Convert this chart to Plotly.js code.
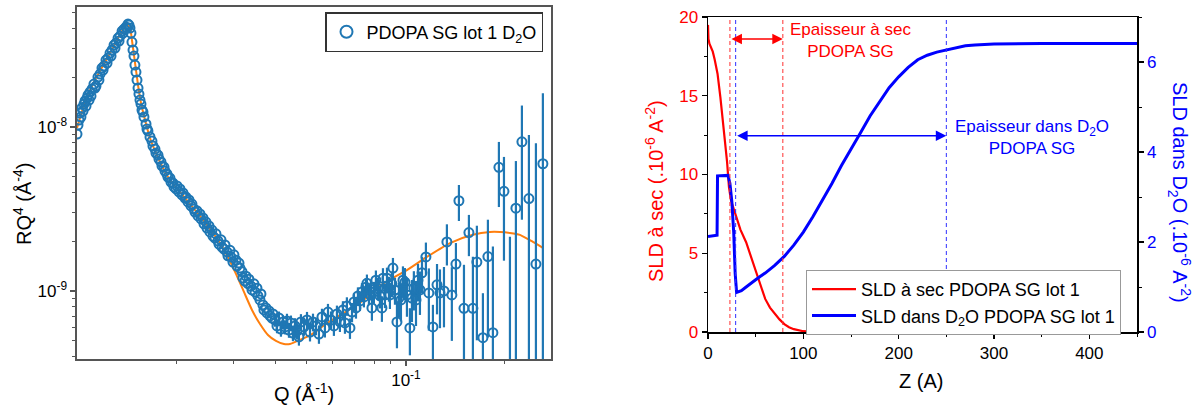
<!DOCTYPE html>
<html><head><meta charset="utf-8">
<script src="https://cdn.plot.ly/plotly-3.0.1.min.js"></script>
<style>html,body{margin:0;padding:0;background:#fff}#chart{width:1197px;height:406px}</style>
</head><body><div id="chart"></div>
<script>
// ---------- Left panel: reflectivity RQ^4 vs Q ----------
const qRise = [0.01000,0.01007,0.01014,0.01021,0.01028,0.01035,0.01043,0.01050,0.01058,0.01065,
  0.01073,0.01080,0.01088,0.01095,0.01103,0.01111,0.01126,0.01134,0.01142,0.01158,
  0.01166,0.01175,0.01191,0.01200,0.01208,0.01225,0.01234,0.01243,0.01260,0.01269,
  0.01278,0.01296,0.01305,0.01314,0.01333,0.01342,0.01352,0.01371,0.01380,0.01390,
  0.01409,0.01419,0.01429,0.01439];
const rRise = [9.06e-9,1.028e-8,1.103e-8,1.217e-8,1.151e-8,1.306e-8,1.251e-8,1.380e-8,1.441e-8,1.343e-8,
  1.502e-8,1.567e-8,1.461e-8,1.634e-8,1.545e-8,1.705e-8,1.829e-8,1.729e-8,1.778e-8,2.018e-8,
  1.934e-8,2.104e-8,2.290e-8,2.226e-8,2.355e-8,2.561e-8,2.456e-8,2.634e-8,2.826e-8,2.710e-8,
  2.947e-8,3.162e-8,3.031e-8,3.252e-8,3.489e-8,3.345e-8,3.588e-8,3.849e-8,3.743e-8,3.959e-8,
  4.072e-8,4.015e-8,4.247e-8,4.188e-8];

const qFall = [0.01449,0.01459,0.01469,0.01480,0.01490,0.01500,0.01511,0.01522,0.01533,0.01543,
  0.01554,0.01565,0.01576,0.01587,0.01598,0.01621,0.01632,0.01643,0.01667,0.01690,
  0.01702,0.01726,0.01738,0.01763,0.01775,0.01800,0.01813,0.01839,0.01851,0.01877,
  0.01890,0.01917,0.01931,0.01958,0.01972,0.02000,0.02014,0.02042,0.02056,0.02085,
  0.02100,0.02129,0.02145,0.02175,0.02190,0.02221,0.02236,0.02268,0.02284,0.02316,
  0.02333,0.02365,0.02382,0.02415,0.02432,0.02467,0.02484,0.02519,0.02536,0.02572,
  0.02590,0.02627,0.02645,0.02683,0.02702,0.02740,0.02759,0.02798,0.02818,0.02858,
  0.02877,0.02919,0.02938,0.02979,0.03000,0.03043,0.03064,0.03108,0.03129,0.03174,
  0.03195,0.03241,0.03263,0.03310,0.03332,0.03380,0.03404,0.03451,0.03476,0.03525,
  0.03549,0.03600,0.03624,0.03675,0.03701,0.03753,0.03780,0.03834,0.03861,0.03915,
  0.03943];
const rFall = [4.015e-8,3.743e-8,3.298e-8,2.947e-8,2.710e-8,2.388e-8,2.164e-8,1.934e-8,1.729e-8,1.589e-8,
  1.461e-8,1.380e-8,1.269e-8,1.234e-8,1.151e-8,1.043e-8,9.73e-9,9.46e-9,8.69e-9,8.21e-9,
  7.66e-9,7.34e-9,6.94e-9,6.74e-9,6.38e-9,6.12e-9,5.79e-9,5.70e-9,5.39e-9,5.17e-9,
  4.95e-9,4.88e-9,4.61e-9,4.55e-9,4.31e-9,4.19e-9,4.37e-9,4.02e-9,4.19e-9,3.85e-9,
  3.96e-9,3.69e-9,3.74e-9,3.49e-9,3.59e-9,3.30e-9,3.39e-9,3.16e-9,3.03e-9,3.08e-9,
  2.87e-9,2.95e-9,2.75e-9,2.79e-9,2.57e-9,2.63e-9,2.42e-9,2.49e-9,2.29e-9,2.35e-9,
  2.16e-9,2.10e-9,2.23e-9,2.02e-9,1.93e-9,2.05e-9,1.85e-9,1.80e-9,1.91e-9,1.73e-9,
  1.64e-9,1.77e-9,1.61e-9,1.50e-9,1.66e-9,1.54e-9,1.42e-9,1.48e-9,1.38e-9,1.31e-9,
  1.20e-9,1.15e-9,1.23e-9,1.11e-9,1.18e-9,1.07e-9,1.014e-9,1.105e-9,9.86e-10,1.04e-9,
  9.32e-10,8.81e-10,9.59e-10,8.22e-10,7.66e-10,7.88e-10,7.34e-10,7.55e-10,7.04e-10,6.84e-10,
  7.24e-10];

const qNoisy = [0.03998,0.04055,0.04111,0.04169,0.04228,0.04288,0.04348,0.04409,0.04471,0.04534,
  0.04598,0.04663,0.04728,0.04795,0.04898,0.05003,0.05109,0.05217,0.05326,0.05439,
  0.05555,0.05672,0.05794,0.05917,0.06040,0.06169,0.06300,0.06434,0.06525,0.06614,
  0.06758,0.06856,0.06951,0.07049,0.07146,0.07247,0.07349,0.07452,0.07557,0.07610,
  0.07717,0.07825,0.07881,0.07991,0.08103,0.08217,0.08336,0.08453,0.08514,0.08633,
  0.08756,0.08877,0.08940,0.09066,0.09130,0.09260,0.09390,0.09521,0.09656,0.09793,
  0.09931,0.1007,0.1028,0.1043,0.1057,0.1073,0.1088,0.1103,0.1119,0.1150,
  0.1174,0.1208,0.1243,0.1269,0.1305,0.1332,0.1379,0.1419,0.1449,0.1501,
  0.1554,0.1598,0.1643,0.1714,0.1775,0.1838,0.1917,0.1986,0.2071,0.2159,
  0.2252,0.2365,0.2484,0.2608];
const rNoisy = [6.65e-10,6.12e-10,6.84e-10,5.86e-10,6.47e-10,6.03e-10,6.56e-10,5.78e-10,6.38e-10,5.54e-10,
  6.12e-10,5.70e-10,5.24e-10,6.47e-10,6.03e-10,6.65e-10,5.62e-10,6.47e-10,6.12e-10,5.46e-10,
  6.94e-10,5.95e-10,7.44e-10,6.65e-10,6.12e-10,7.24e-10,6.47e-10,7.66e-10,6.38e-10,8.10e-10,
  5.95e-10,7.44e-10,8.57e-10,7.88e-10,9.32e-10,8.69e-10,9.86e-10,9.19e-10,1.055e-9,1.114e-9,
  9.59e-10,1.025e-9,7.88e-10,9.86e-10,1.163e-9,1.040e-9,9.32e-10,7.88e-10,1.197e-9,9.46e-10,
  1.197e-9,1.040e-9,9.46e-10,1.105e-9,1.380e-9,1.014e-9,6.47e-10,9.06e-10,8.81e-10,1.163e-9,
  1.130e-9,9.46e-10,5.95e-10,9.06e-10,1.040e-9,8.81e-10,1.163e-9,1.014e-9,1.290e-9,1.613e-9,
  9.73e-10,6.03e-10,1.090e-9,9.73e-10,1.000e-9,1.990e-9,9.46e-10,1.460e-9,3.550e-9,7.84e-10,
  2.270e-9,7.84e-10,1.500e-9,5.19e-10,1.620e-9,5.57e-10,5.680e-9,4.050e-9,2.50e-10,3.200e-9,
  8.120e-9,3.660e-9,1.460e-9,5.970e-9];
const rErrNoisy = [6.0e-11,6.0e-11,6.5e-11,6.0e-11,6.5e-11,6.0e-11,7.0e-11,6.0e-11,7.0e-11,6.0e-11,
  7.0e-11,6.5e-11,6.0e-11,7.5e-11,7.0e-11,8.0e-11,7.0e-11,8.0e-11,7.5e-11,7.0e-11,
  8.5e-11,7.5e-11,9.0e-11,8.5e-11,8.0e-11,9.0e-11,8.5e-11,1.0e-10,9.0e-11,1.05e-10,
  8.5e-11,1.0e-10,1.1e-10,1.1e-10,1.2e-10,1.15e-10,1.3e-10,1.25e-10,1.4e-10,1.45e-10,
  1.4e-10,1.5e-10,1.3e-10,1.5e-10,1.7e-10,1.6e-10,1.5e-10,1.4e-10,1.8e-10,1.6e-10,
  1.9e-10,1.8e-10,1.7e-10,1.9e-10,2.1e-10,1.9e-10,2.0e-10,2.2e-10,2.3e-10,2.5e-10,
  2.5e-10,2.5e-10,1.9e-10,2.6e-10,2.8e-10,2.7e-10,3.0e-10,3.0e-10,3.2e-10,3.6e-10,
  4.0e-10,2.2e-10,3.7e-10,3.8e-10,4.0e-10,5.6e-10,4.5e-10,5.0e-10,8.8e-10,6.6e-10,
  6.4e-10,8.35e-10,1.0e-9,4.5e-10,1.1e-9,1.31e-9,2.43e-9,2.52e-9,1.89e-9,3.0e-9,
  5.4e-9,5.28e-9,6.49e-9,1.008e-8];

const qFit = [0.01000,0.01058,0.01134,0.01217,0.01305,0.01371,0.01419,0.01449,0.01469,0.01500,
  0.01533,0.01565,0.01610,0.01667,0.01738,0.01826,0.01917,0.02056,0.02205,0.02365,
  0.02536,0.02721,0.02877,0.03043,0.03218,0.03404,0.03600,0.03807,0.04026,0.04257,
  0.04440,0.04762,0.05180,0.05712,0.06389,0.07247,0.08514,0.1007,0.1158,0.1361,
  0.1598,0.1800,0.1931,0.2071,0.2221,0.2432,0.2608];
const rFit = [9.86e-9,1.420e-8,1.934e-8,2.491e-8,3.207e-8,3.849e-8,4.188e-8,4.015e-8,3.392e-8,2.491e-8,
  1.803e-8,1.400e-8,1.103e-8,8.57e-9,6.94e-9,5.62e-9,4.75e-9,4.02e-9,3.39e-9,2.87e-9,
  2.39e-9,1.96e-9,1.61e-9,1.27e-9,9.86e-10,7.66e-10,6.29e-10,5.39e-10,4.96e-10,4.75e-10,
  4.75e-10,5.03e-10,5.46e-10,6.29e-10,7.24e-10,8.45e-10,1.105e-9,1.34e-9,1.613e-9,1.96e-9,
  2.20e-9,2.29e-9,2.29e-9,2.26e-9,2.20e-9,1.99e-9,1.83e-9];

const qTickVals = [0.1];
const qTickText = ['10<sup>-1</sup>'];
const qMinorTicks = [0.02,0.03,0.04,0.05,0.06,0.07,0.08,0.09,0.2];
const rTickVals = [1e-9,1e-8];
const rTickText = ['10<sup>-9</sup>','10<sup>-8</sup>'];
const rMinorTicks = [4e-10,5e-10,6e-10,7e-10,8e-10,9e-10,2e-9,3e-9,4e-9,5e-9,6e-9,7e-9,8e-9,9e-9,2e-8,3e-8,4e-8,5e-8];

// ---------- Right panel: SLD profiles ----------
const zDry = [0,0.5,1.5,3,5,7,10,13,16,18,20,22,24,26,30,34,40,44,50,55,60,65,70,75,80,85,90,95,100,110,120,150];
const sldDry = [19.5,18.6,18.3,18.1,17.8,17.3,16.4,14.9,13.2,12.1,10.8,9.2,8.4,8.0,7.2,6.5,5.7,5.0,3.9,3.0,2.1,1.55,1.15,0.8,0.5,0.3,0.18,0.1,0.05,0.01,0,0];
const zWet = [0,9.5,10,21,23,25,27,28.5,30,35,40,45,50,55,60,70,80,90,100,110,120,130,140,150,160,170,180,190,200,210,220,230,240,250,260,270,280,300,350,450];
const sldWet = [2.12,2.15,3.47,3.48,3.3,2.9,2.2,1.3,0.88,0.92,1.0,1.09,1.16,1.24,1.31,1.48,1.68,1.93,2.22,2.56,2.92,3.3,3.7,4.08,4.43,4.8,5.13,5.43,5.67,5.88,6.05,6.15,6.22,6.27,6.32,6.36,6.38,6.40,6.41,6.41];
const dryThickness = [23, 78.5];
const wetThickness = [29, 250];
const dryArrowLevel = 18.6;   // left SLD axis
const wetArrowLevel = 4.36;   // right SLD axis

const FONT = '"Liberation Sans", Arial, Helvetica, sans-serif';
const BLUE = '#1f77b4', ORANGE = '#ff7f0e';

const traces = [
  {x:qFit, y:rFit, type:'scatter', mode:'lines', xaxis:'x', yaxis:'y', showlegend:false,
   line:{color:ORANGE, width:2, shape:'spline', smoothing:0.6}},
  {x: qNoisy.concat(qFall, qRise), y: rNoisy.concat(rFall, rRise),
   type:'scatter', mode:'markers', xaxis:'x', yaxis:'y', legend:'legend',
   name:'PDOPA SG lot 1 D<sub>2</sub>O',
   marker:{symbol:'circle-open', size:9, color:BLUE, line:{width:2, color:BLUE}},
   error_y:{type:'data', array:rErrNoisy, visible:true, color:BLUE, thickness:2.2, width:0}},
  {x:zDry, y:sldDry, type:'scatter', mode:'lines', xaxis:'x2', yaxis:'y2', legend:'legend2',
   name:'SLD à sec PDOPA SG lot 1', line:{color:'#ff0000', width:2.2}},
  {x:zWet, y:sldWet, type:'scatter', mode:'lines', xaxis:'x2', yaxis:'y3', legend:'legend2',
   name:'SLD dans D<sub>2</sub>O PDOPA SG lot 1', line:{color:'#0000ff', width:3}}
];

const shapes = [];
dryThickness.forEach(z => shapes.push({type:'line', xref:'x2', yref:'y2', x0:z, x1:z, y0:0, y1:20,
  line:{color:'#ff3030', width:1, dash:'4px,3px'}}));
wetThickness.forEach(z => shapes.push({type:'line', xref:'x2', yref:'y2', x0:z, x1:z, y0:0, y1:20,
  line:{color:'#3030ff', width:1, dash:'4px,3px'}}));

const annotations = [
  {xref:'x2', yref:'y2', axref:'x2', ayref:'y2', x:dryThickness[1], y:dryArrowLevel, ax:dryThickness[0], ay:dryArrowLevel,
   text:'', showarrow:true, arrowside:'end+start', arrowhead:2, startarrowhead:2, arrowsize:1.4, startarrowsize:1.4, arrowwidth:1.5, arrowcolor:'#ff0000'},
  {xref:'x2', yref:'y3', axref:'x2', ayref:'y3', x:wetThickness[1], y:wetArrowLevel, ax:wetThickness[0], ay:wetArrowLevel,
   text:'', showarrow:true, arrowside:'end+start', arrowhead:2, startarrowhead:2, arrowsize:1.4, startarrowsize:1.4, arrowwidth:1.5, arrowcolor:'#0000ff'},
  {xref:'x2', yref:'y2', x:149, y:18.5, xanchor:'center', yanchor:'middle', text:'Epaisseur à sec<br>PDOPA SG', showarrow:false,
   font:{family:FONT, size:17, color:'#ff0000'}},
  {xref:'x2', yref:'y3', x:340, y:4.33, xanchor:'center', yanchor:'middle', text:'Epaisseur dans D<sub>2</sub>O<br>PDOPA SG', showarrow:false,
   font:{family:FONT, size:17, color:'#0000ff'}},
  // axis titles
  {xref:'paper', yref:'paper', x:22/1197, y:(406-204)/406, xanchor:'center', yanchor:'middle',
   text:'RQ<sup>4</sup> (Å<sup>-4</sup>)', textangle:-90, showarrow:false, font:{family:FONT, size:20, color:'#000'}},
  {xref:'paper', yref:'paper', x:304/1197, y:(406-392)/406, xanchor:'center', yanchor:'middle',
   text:'Q (Å<sup>-1</sup>)', showarrow:false, font:{family:FONT, size:20, color:'#000'}},
  {xref:'paper', yref:'paper', x:921/1197, y:(406-381)/406, xanchor:'center', yanchor:'middle',
   text:'Z (A)', showarrow:false, font:{family:FONT, size:20, color:'#000'}},
  {xref:'paper', yref:'paper', x:654/1197, y:(406-191)/406, xanchor:'center', yanchor:'middle',
   text:'SLD à sec (.10<sup>-6</sup> A<sup>-2</sup>)', textangle:-90, showarrow:false, font:{family:FONT, size:20, color:'#ff0000'}},
  {xref:'paper', yref:'paper', x:1180/1197, y:(406-192)/406, xanchor:'center', yanchor:'middle',
   text:'SLD dans D<sub>2</sub>O (.10<sup>-6</sup> A<sup>-2</sup>)', textangle:90, showarrow:false, font:{family:FONT, size:20, color:'#0000ff'}}
];

const axisCommon = {showgrid:false, zeroline:false, showline:true, ticks:'outside', ticklen:5, tickwidth:1.3};

const layout = {
  width:1197, height:406, margin:{l:0, r:0, t:0, b:0},
  paper_bgcolor:'#ffffff', plot_bgcolor:'#ffffff',
  font:{family:FONT, size:17, color:'#000'},
  showlegend:true,
  xaxis: Object.assign({}, axisCommon, {domain:[77/1197, 551/1197], anchor:'y', type:'log', range:[-2.0, -0.559],
    tickmode:'array', tickvals:qTickVals, ticktext:qTickText, tickcolor:'#555', linecolor:'#555', linewidth:1.6, mirror:true,
    minor:{tickmode:'array', tickvals:qMinorTicks, ticks:'outside', ticklen:3, tickwidth:1, tickcolor:'#555'}}),
  yaxis: Object.assign({}, axisCommon, {domain:[(406-359)/406, (406-7)/406], anchor:'x', type:'log', range:[-9.415, -7.268],
    tickmode:'array', tickvals:rTickVals, ticktext:rTickText, tickcolor:'#555', linecolor:'#555', linewidth:1.6, mirror:true,
    minor:{tickmode:'array', tickvals:rMinorTicks, ticks:'outside', ticklen:3, tickwidth:1, tickcolor:'#555'}}),
  xaxis2: Object.assign({}, axisCommon, {domain:[708/1197, 1137/1197], anchor:'y2', range:[0, 450],
    tickmode:'linear', tick0:0, dtick:100, tickcolor:'#000', linecolor:'#000', linewidth:1.5, mirror:true,
    minor:{tick0:0, dtick:50, ticks:'outside', ticklen:3, tickwidth:1, tickcolor:'#000'}}),
  yaxis2: Object.assign({}, axisCommon, {domain:[(406-332)/406, (406-17)/406], anchor:'x2', range:[0, 20],
    tickmode:'linear', tick0:0, dtick:5, tickcolor:'#000', linecolor:'#000', linewidth:1.5,
    tickfont:{color:'#ff0000', size:17},
    minor:{tick0:0, dtick:2.5, ticks:'outside', ticklen:3, tickwidth:1, tickcolor:'#000'}}),
  yaxis3: Object.assign({}, axisCommon, {overlaying:'y2', side:'right', anchor:'x2', range:[0, 7],
    tickmode:'linear', tick0:0, dtick:2, tickcolor:'#000', linecolor:'#000', linewidth:1.5,
    tickfont:{color:'#0000ff', size:17},
    minor:{tick0:0, dtick:1, ticks:'outside', ticklen:3, tickwidth:1, tickcolor:'#000'}}),
  legend:{x:325/1197, y:(406-12)/406, xanchor:'left', yanchor:'top', bgcolor:'#ffffff', itemsizing:'constant',
    bordercolor:'#333', borderwidth:1.5, font:{family:FONT, size:18, color:'#000'}},
  legend2:{x:806/1197, y:(406-270)/406, xanchor:'left', yanchor:'top', bgcolor:'#ffffff', itemwidth:44,
    bordercolor:'#999', borderwidth:1, font:{family:FONT, size:18, color:'#000'}, tracegroupgap:0},
  shapes: shapes,
  annotations: annotations
};

Plotly.newPlot('chart', traces, layout, {displayModeBar:false, staticPlot:true});
</script></body></html>
